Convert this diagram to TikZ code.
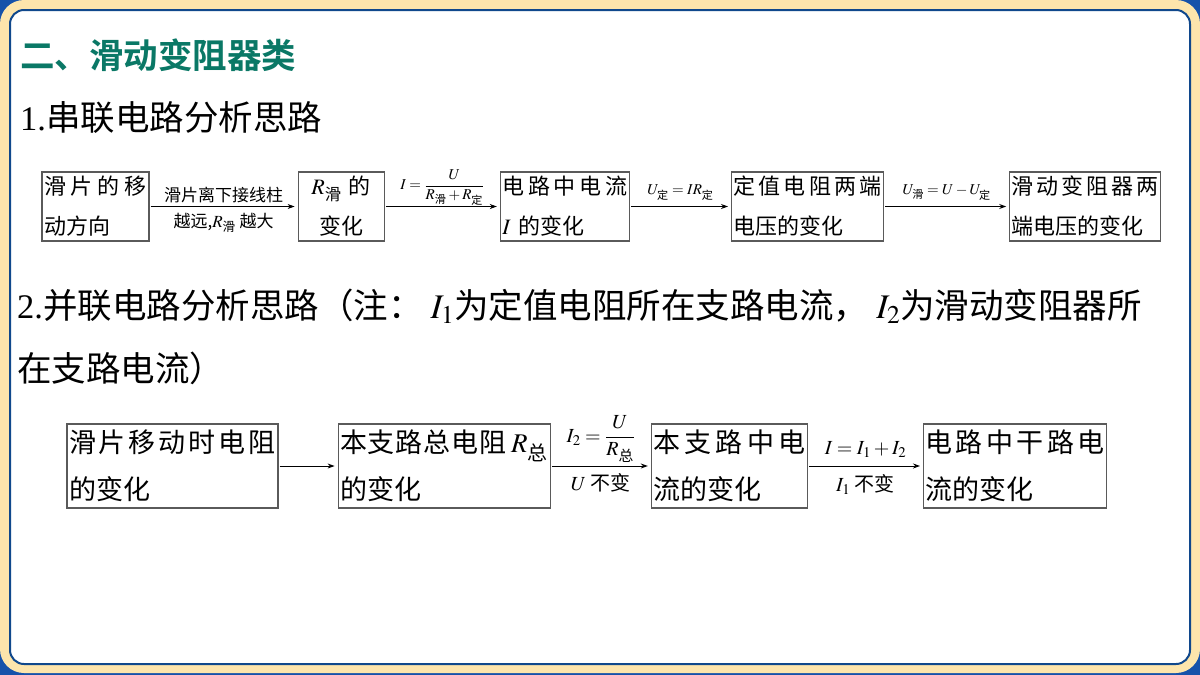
\documentclass[tikz,border=0pt]{standalone}
\usepackage{amsmath}
\usepackage{mathptmx}
\usepackage[no-math]{fontspec}
\setmainfont{Noto Sans CJK SC}[BoldFont={Noto Sans CJK SC Bold}]
\newfontfamily\latinserif{Liberation Serif}
\usetikzlibrary{arrows.meta, positioning}

\definecolor{framebg}{RGB}{22,82,170}
\definecolor{framebeige}{RGB}{253,229,172}
\definecolor{frameline}{RGB}{16,72,140}
\definecolor{titleteal}{RGB}{10,120,102}
\definecolor{boxgray}{RGB}{90,90,90}

% spread the characters of one line over the whole box
\makeatletter
\newcommand{\spreadrow}[1]{\hbox to \linewidth{\spread@go#1\spread@end}}
\def\spread@go#1#2\spread@end{#1\ifx\relax#2\relax\else\hfill\spread@go#2\spread@end\fi}
\makeatother

\tikzset{
    stepbox/.style={draw=boxgray, line width=1.2pt, inner xsep=2pt, inner ysep=0pt,
        align=left, minimum height=69pt, font=\fontsize{22}{40}\selectfont},
    widebox/.style={stepbox, minimum height=84pt, font=\fontsize{27}{47}\selectfont},
    flow/.style={-{Stealth[length=7pt,width=5pt]}, line width=0.9pt, shorten >=3pt, shorten <=1pt},
    smalltext/.style={font=\fontsize{17}{20}\selectfont, inner sep=2pt},
    midtext/.style={font=\fontsize{20}{24}\selectfont, inner sep=3pt},
    heading/.style={font=\fontsize{34.5}{63}\selectfont, inner sep=0pt, anchor=west, align=left}
}

\begin{document}
\begin{tikzpicture}[x=1pt, y=-1pt]
    \useasboundingbox (0,0) rectangle (1200,675);
    % frame
    \fill[framebg] (0,0) rectangle (1200,675);
    \fill[framebeige, rounded corners=24pt] (0,0) rectangle (1200,673);
    \draw[frameline, line width=2pt, fill=white, rounded corners=14pt] (10,10) rectangle (1190,664);

    % headings
    \node[heading, text=titleteal] (title) at (20,55) {\bfseries 二、滑动变阻器类};
    \node[heading] (series) at (20,118) {{\latinserif 1.}串联电路分析思路};
    \node[heading] (parallel) at (17,336.5) {{\latinserif 2.}并联电路分析思路（注：\hspace{8pt}$I_1$为定值电阻所在支路电流，\hspace{8pt}$I_2$为滑动变阻器所\\在支路电流）};

    % series chain
    \node[stepbox, text width=103pt] (move) at (95.5,206.5) {\spreadrow{滑片的移}\\动方向};
    \node[stepbox, text width=82pt, align=center, right=148pt of move] (rslide) {$R_{\text{滑}}$ 的\\变化};
    \node[stepbox, text width=125pt, right=115pt of rslide] (current) {\spreadrow{电路中电流}\\$I$ 的变化};
    \node[stepbox, text width=148pt, right=101pt of current] (ufixed) {\spreadrow{定值电阻两端}\\电压的变化};
    \node[stepbox, text width=147pt, right=125pt of ufixed] (uslide) {\spreadrow{滑动变阻器两}\\端电压的变化};

    \draw[flow] (move) -- (rslide)
        node[midway, above, smalltext, inner sep=3pt] {滑片离下接线柱}
        node[midway, below, smalltext, inner sep=6pt] {越远,$R_{\text{滑}}$ 越大};
    \draw[flow] (rslide) -- (current)
        node[midway, above, font=\fontsize{15}{18}\selectfont, inner sep=1pt] {$I=\dfrac{U}{R_{\text{滑}}+R_{\text{定}}}$};
    \draw[flow] (current) -- (ufixed)
        node[midway, above, font=\fontsize{15}{18}\selectfont, inner sep=6pt] {$U_{\text{定}}=IR_{\text{定}}$};
    \draw[flow] (ufixed) -- (uslide)
        node[midway, above, font=\fontsize{15}{18}\selectfont, inner sep=6pt] {$U_{\text{滑}}=U-U_{\text{定}}$};

    % parallel chain
    \node[widebox, text width=207pt] (slider) at (172.5,466) {\spreadrow{滑片移动时电阻}\\的变化};
    \node[widebox, text width=208pt, right=59pt of slider] (rtotal) {\hbox to \linewidth{本\hfill 支\hfill 路\hfill 总\hfill 电\hfill 阻\hspace{5pt}$R_{\text{总}}$}\\的变化};
    \node[widebox, text width=152pt, right=100pt of rtotal] (branch) {\spreadrow{本支路中电}\\流的变化};
    \node[widebox, text width=179pt, right=115pt of branch] (mainline) {\spreadrow{电路中干路电}\\流的变化};

    \draw[flow] (slider) -- (rtotal);
    \draw[flow] (rtotal) -- (branch)
        node[midway, above, midtext, inner sep=3pt] {$I_2=\dfrac{U}{R_{\text{总}}}$}
        node[midway, below, midtext, inner sep=7pt] {$U$ 不变};
    \draw[flow] (branch) -- (mainline)
        node[midway, above, midtext, inner sep=8pt] {$I=I_1+I_2$}
        node[midway, below, midtext, inner sep=8pt] {$I_1$ 不变};
\end{tikzpicture}
\end{document}
